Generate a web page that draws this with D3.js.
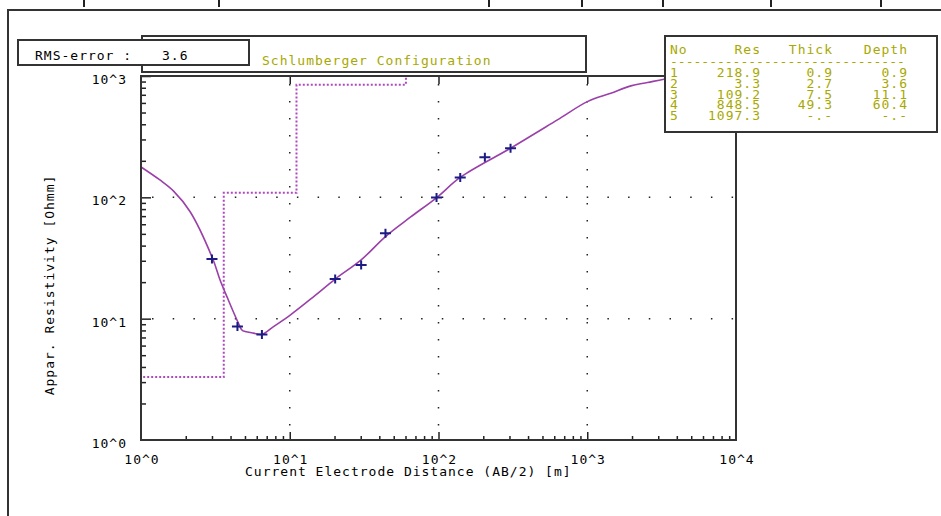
<!DOCTYPE html>
<html>
<head>
<meta charset="utf-8">
<script src="https://cdn.jsdelivr.net/npm/d3@7"></script>
<style>
body { margin: 0; background: #fff; }
text { font-family: "DejaVu Sans Mono", monospace; font-size: 13px; letter-spacing: 1px; }
</style>
</head>
<body>
<script>
// measured sounding points (AB/2 [m], apparent resistivity [Ohmm])
var abHalf = [3.0, 4.45, 6.5, 20.2, 30.2, 44, 97, 140, 205, 305];
var rhoMeas = [31, 8.6, 7.4, 21.2, 27.7, 50.6, 99.5, 146, 214, 254];

// fitted model curve
var curveAB = [1.0, 1.34, 1.65, 2.14, 3.04, 3.4, 3.78, 4.41, 4.77, 5.01, 5.7, 6.53, 7.78, 10.07, 14.5, 20.2,
    30.2, 44, 65, 97.3, 140.6, 305, 630, 1002, 1439, 1963, 2541, 3275, 5000, 10000];
var curveRho = [178, 139, 113, 76, 31, 20.8, 15.2, 9.8, 8.07, 7.83, 7.6, 7.43, 8.6, 10.7, 15.2, 21.2,
    30.5, 47.5, 68.9, 99.6, 146.5, 254, 435, 615, 721, 829, 883, 941, 1010, 1060];

// layer model
var layerNo = [1, 2, 3, 4, 5];
var layerRes = [218.9, 3.3, 109.2, 848.5, 1097.3];
var layerThick = [0.9, 2.7, 7.5, 49.3];
var layerDepth = [0.9, 3.6, 11.1, 60.4];

var xTickLabels = ["10^0", "10^1", "10^2", "10^3", "10^4"];
var yTickLabels = ["10^0", "10^1", "10^2", "10^3"];
var rmsError = "3.6";

var width = 941, height = 516;
var olive = "#a8a800", frameCol = "#333", curveCol = "#9a40a8", stepCol = "#b048c0", crossCol = "#1c1c84";

var svg = d3.select("body").append("svg")
    .attr("width", width)
    .attr("height", height);

var x = d3.scaleLog().domain([1, 10000]).range([141, 736]);
var y = d3.scaleLog().domain([1, 1000]).range([440, 76]);

// bits of a window above
[84, 219, 489, 582, 663, 771, 881].forEach(function (px) {
    svg.append("line").attr("x1", px).attr("x2", px).attr("y1", 0).attr("y2", 7)
        .attr("stroke", "#222").attr("stroke-width", 2);
});

// outer frame
svg.append("path")
    .attr("d", "M8,517V10H942")
    .attr("fill", "none").attr("stroke", frameCol).attr("stroke-width", 2);

svg.append("clipPath").attr("id", "plotclip")
    .append("rect").attr("x", 141).attr("y", 76).attr("width", 595).attr("height", 364);

// grid
var grid = svg.append("g");
[10, 100, 1000].forEach(function (v) {
    grid.append("line")
        .attr("x1", x(v)).attr("x2", x(v)).attr("y1", 84).attr("y2", 440)
        .attr("stroke", "#222").attr("stroke-width", 1.5).attr("stroke-dasharray", "1.5,15.5");
});
[10, 100].forEach(function (v) {
    grid.append("line")
        .attr("x1", 152).attr("x2", 736).attr("y1", y(v)).attr("y2", y(v))
        .attr("stroke", "#222").attr("stroke-width", 1.5).attr("stroke-dasharray", "1.5,19.2");
});

var plot = svg.append("g").attr("clip-path", "url(#plotclip)");

// step model
var stepPts = [[0.5, layerRes[0]]];
layerDepth.forEach(function (d, i) {
    stepPts.push([d, layerRes[i]]);
    stepPts.push([d, layerRes[i + 1]]);
});
stepPts.push([20000, layerRes[layerRes.length - 1]]);

plot.append("path")
    .datum(stepPts)
    .attr("fill", "none")
    .attr("stroke", stepCol)
    .attr("stroke-width", 2)
    .attr("stroke-dasharray", "2,2")
    .attr("d", d3.line().x(function (d) { return x(d[0]); }).y(function (d) { return y(d[1]); }));

// model curve
plot.append("path")
    .datum(d3.zip(curveAB, curveRho))
    .attr("fill", "none")
    .attr("stroke", curveCol)
    .attr("stroke-width", 1.6)
    .attr("d", d3.line().curve(d3.curveCatmullRom.alpha(0.5))
        .x(function (d) { return x(d[0]); }).y(function (d) { return y(d[1]); }));

// measured crosses
plot.selectAll(".cross")
    .data(d3.zip(abHalf, rhoMeas))
    .enter().append("path")
    .attr("class", "cross")
    .attr("transform", function (d) { return `translate(${x(d[0])} ${y(d[1])})`; })
    .attr("d", "M-5.5,0H5.5M0,-4.5V4.5")
    .attr("stroke", crossCol)
    .attr("stroke-width", 2);

// axes
var xMajor = [1, 10, 100, 1000, 10000];
var yMajor = [1, 10, 100, 1000];
var xMinor = x.ticks().filter(function (v) { return xMajor.indexOf(v) < 0; });
var yMinor = y.ticks().filter(function (v) { return yMajor.indexOf(v) < 0; });

svg.append("g").attr("transform", "translate(0 440)")
    .call(d3.axisBottom(x).tickValues(xMinor).tickSize(-4).tickFormat(""))
    .call(function (g) { g.select(".domain").remove(); });
svg.append("g").attr("transform", "translate(0 440)")
    .call(d3.axisBottom(x).tickValues([10, 100, 1000]).tickSize(-8).tickFormat(""))
    .call(function (g) { g.select(".domain").remove(); });
svg.append("g").attr("transform", "translate(0 76)")
    .call(d3.axisTop(x).tickValues([10, 100, 1000]).tickSize(-8).tickFormat(""))
    .call(function (g) { g.select(".domain").remove(); });
svg.append("g").attr("transform", "translate(141 0)")
    .call(d3.axisLeft(y).tickValues(yMinor).tickSize(-5).tickFormat(""))
    .call(function (g) { g.select(".domain").remove(); });
svg.append("g").attr("transform", "translate(141 0)")
    .call(d3.axisLeft(y).tickValues([10, 100, 1000]).tickSize(-10).tickFormat(""))
    .call(function (g) { g.select(".domain").remove(); });
svg.selectAll(".tick line").attr("stroke", "#222").attr("stroke-width", 1.5);

svg.append("rect")
    .attr("x", 141).attr("y", 76).attr("width", 595).attr("height", 364)
    .attr("fill", "none").attr("stroke", frameCol).attr("stroke-width", 2);

svg.selectAll(".xlab")
    .data(xMajor)
    .enter().append("text")
    .attr("x", function (d) { return x(d) + 1; })
    .attr("y", 464)
    .attr("text-anchor", "middle")
    .text(function (d, i) { return xTickLabels[i]; });

svg.selectAll(".ylab")
    .data(yMajor)
    .enter().append("text")
    .attr("x", 127)
    .attr("y", function (d) { return y(d) + 8; })
    .attr("text-anchor", "end")
    .text(function (d, i) { return yTickLabels[i]; });

svg.append("text")
    .attr("x", 245).attr("y", 476)
    .text("Current Electrode Distance (AB/2) [m]");

svg.append("text")
    .attr("transform", "translate(54 285) rotate(-90)")
    .attr("text-anchor", "middle")
    .text("Appar. Resistivity [Ohmm]");

// title box
svg.append("rect")
    .attr("x", 142).attr("y", 36).attr("width", 444).attr("height", 36)
    .attr("fill", "#fff").attr("stroke", frameCol).attr("stroke-width", 2);
svg.append("text")
    .attr("x", 262).attr("y", 65)
    .attr("fill", olive)
    .text("Schlumberger Configuration");

// rms box
svg.append("rect")
    .attr("x", 18).attr("y", 40).attr("width", 231).attr("height", 25)
    .attr("fill", "#fff").attr("stroke", frameCol).attr("stroke-width", 2);
svg.append("text").attr("x", 35).attr("y", 60).text("RMS-error :");
svg.append("text").attr("x", 162).attr("y", 60).text(rmsError);

// layer table
var table = svg.append("g");
table.append("rect")
    .attr("x", 665).attr("y", 36).attr("width", 272).attr("height", 96)
    .attr("fill", "#fff").attr("stroke", frameCol).attr("stroke-width", 2);

var cols = [
    { x: 670, anchor: "start", head: "No" },
    { x: 761, anchor: "end", head: "Res" },
    { x: 833, anchor: "end", head: "Thick" },
    { x: 908, anchor: "end", head: "Depth" }
];
cols.forEach(function (c) {
    table.append("text").attr("x", c.x).attr("y", 54)
        .attr("text-anchor", c.anchor).attr("fill", olive).text(c.head);
});
table.append("text").attr("x", 670).attr("y", 66).attr("fill", olive)
    .style("letter-spacing", "0px")
    .text(d3.range(30).map(function () { return "-"; }).join(""));

var rows = layerNo.map(function (n, i) {
    return [String(n), layerRes[i].toFixed(1),
        i < layerThick.length ? layerThick[i].toFixed(1) : "-.-",
        i < layerDepth.length ? layerDepth[i].toFixed(1) : "-.-"];
});
table.selectAll(".row")
    .data(rows)
    .enter().append("g")
    .attr("transform", function (d, i) { return `translate(0 ${77 + i * 10.8})`; })
    .selectAll("text")
    .data(function (d) { return d; })
    .enter().append("text")
    .attr("x", function (d, i) { return cols[i].x; })
    .attr("text-anchor", function (d, i) { return cols[i].anchor; })
    .attr("fill", olive)
    .text(function (d) { return d; });
</script>
</body>
</html>
